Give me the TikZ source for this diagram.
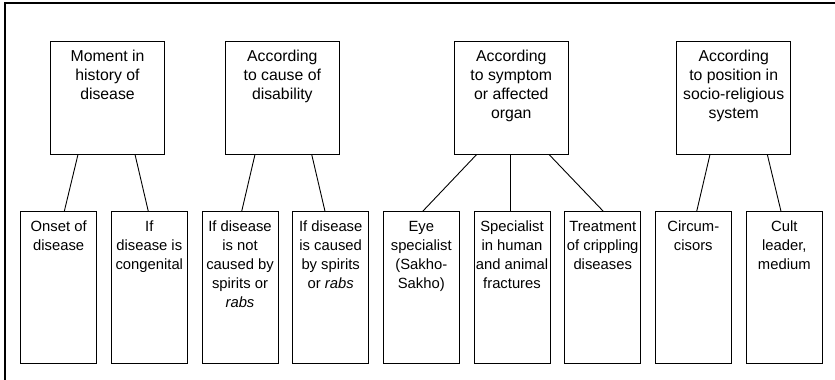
\documentclass[tikz,border=0pt]{standalone}
\usepackage{fontspec}
\setmainfont{Liberation Sans}
\tikzset{
  catbox/.style={draw, line width=0.9pt, minimum width=114pt, minimum height=113pt, inner sep=0pt},
  subbox/.style={draw, line width=0.9pt, minimum width=76pt, minimum height=151.5pt, inner sep=0pt},
  cattext/.style={anchor=north, align=center, inner sep=0pt, yshift=-9pt, font=\fontsize{15.8}{19}\selectfont},
  subtext/.style={anchor=north, align=center, inner sep=0pt, yshift=-9.5pt, font=\fontsize{14.8}{19}\selectfont},
  link/.style={line width=0.9pt}
}
\begin{document}
\begin{tikzpicture}[x=1pt,y=-1pt]

    \useasboundingbox (0,0) rectangle (835,380);
    \draw[line width=1.2pt] (5,381) -- (5,3) -- (836,3);

    \node[catbox, label={[cattext]north:{Moment in\\history of\\disease}}] (moment) at (107.5,97.5) {};
    \node[catbox, label={[cattext]north:{According\\to cause of\\disability}}] (cause) at (282.3,97.5) {};
    \node[catbox, label={[cattext]north:{According\\to symptom\\or affected\\organ}}] (symptom) at (511.3,97.5) {};
    \node[catbox, label={[cattext]north:{According\\to position in\\socio-religious\\system}}] (position) at (733.7,97.5) {};

    \node[subbox, label={[subtext]north:{Onset of\\disease}}] (onset) at (58.7,287.5) {};
    \node[subbox, label={[subtext]north:{If\\disease is\\congenital}}] (congenital) at (149.3,287.5) {};
    \node[subbox, label={[subtext]north:{If disease\\is not\\caused by\\spirits or\\\textit{rabs}}}] (notspirits) at (240,287.5) {};
    \node[subbox, label={[subtext]north:{If disease\\is caused\\by spirits\\or \textit{rabs}}}] (spirits) at (330.7,287.5) {};
    \node[subbox, label={[subtext]north:{Eye\\specialist\\(Sakho-\\Sakho)}}] (eye) at (421.3,287.5) {};
    \node[subbox, label={[subtext]north:{Specialist\\in human\\and animal\\fractures}}] (fractures) at (512,287.5) {};
    \node[subbox, label={[subtext]north:{Treatment\\of crippling\\diseases}}] (crippling) at (602.7,287.5) {};
    \node[subbox, label={[subtext]north:{Circum-\\cisors}}] (circum) at (693.3,287.5) {};
    \node[subbox, label={[subtext]north:{Cult\\leader,\\medium}}] (cult) at (784.3,287.5) {};

    \draw[link] ([xshift=-29.5pt]moment.south) -- ([xshift=5.6pt]onset.north);
    \draw[link] ([xshift=27.5pt]moment.south) -- ([xshift=-1pt]congenital.north);
    \draw[link] ([xshift=-27.3pt]cause.south) -- ([xshift=1.7pt]notspirits.north);
    \draw[link] ([xshift=29.4pt]cause.south) -- ([xshift=-5.7pt]spirits.north);
    \draw[link] ([xshift=-34.6pt]symptom.south) -- ([xshift=1.4pt]eye.north);
    \draw[link] ([xshift=-0.6pt]symptom.south) -- ([xshift=-1.3pt]fractures.north);
    \draw[link] ([xshift=37.7pt]symptom.south) -- ([xshift=0.6pt]crippling.north);
    \draw[link] ([xshift=-23.7pt]position.south) -- ([xshift=3.4pt]circum.north);
    \draw[link] ([xshift=33.6pt]position.south) -- ([xshift=-3.3pt]cult.north);

\end{tikzpicture}
\end{document}
